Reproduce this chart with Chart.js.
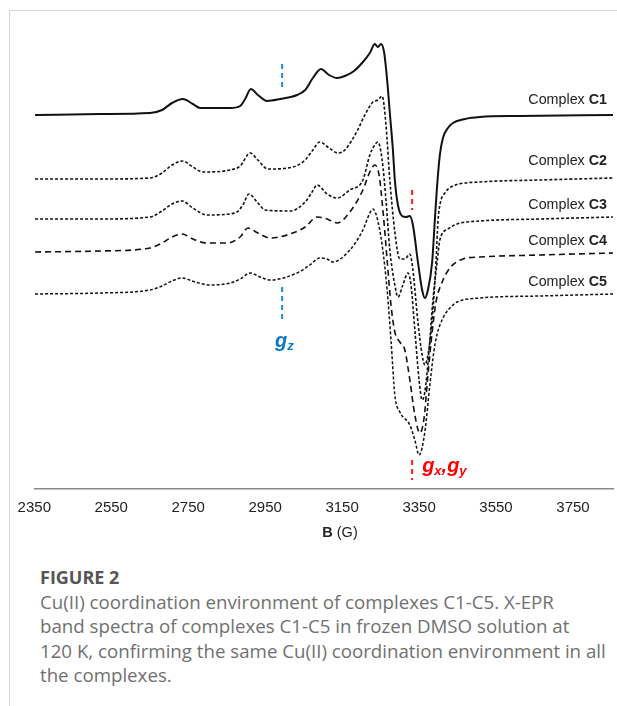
<!DOCTYPE html>
<html>
<head>
<meta charset="utf-8">
<script src="https://cdn.jsdelivr.net/npm/chart.js@4.4.1/dist/chart.umd.min.js"></script>
<style>
  html, body { margin: 0; padding: 0; background: #fff; }
  body { width: 617px; height: 706px; position: relative; overflow: hidden; }
  .frame { position: absolute; left: 9px; top: 10px; width: 608px; height: 696px;
           border-top: 1px solid #d6d6d6; border-left: 1px solid #d6d6d6; }
  #wrap { position: absolute; left: 0; top: 0; width: 617px; height: 560px; }
  .caption { position: absolute; left: 40px; top: 565px; font-family: "Open Sans", sans-serif;
             color: #707070; font-size: 18.7px; line-height: 24.5px; white-space: nowrap; }
  .caption .fig { color: #555; font-weight: bold; font-size: 18px; }
</style>
</head>
<body>
<div class="frame"></div>
<div id="wrap"><canvas id="eprChart"></canvas></div>
<div class="caption">
  <div class="fig">FIGURE 2</div>
  Cu(II) coordination environment of complexes C1-C5. X-EPR<br>
  band spectra of complexes C1-C5 in frozen DMSO solution at<br>
  120 K, confirming the same Cu(II) coordination environment in all<br>
  the complexes.
</div>
<script>
// magnetic field tick labels (G)
const tickValues = [2350, 2550, 2750, 2950, 3150, 3350, 3550, 3750];
const seriesNames = ['C1', 'C2', 'C3', 'C4', 'C5'];

// field (G) / signal (arb. units, curves stacked with offsets)
const fieldC1 = [2352, 2521, 2651, 2682, 2708, 2736, 2762, 2781, 2859, 2885, 2898, 2913, 2931, 2955, 2989, 3033, 3054, 3074, 3095, 3116, 3137, 3157, 3181, 3204, 3222, 3235, 3243, 3251, 3259, 3267, 3274, 3282, 3287, 3295, 3306, 3316, 3326, 3334, 3347, 3358, 3365, 3373, 3384, 3391, 3397, 3404, 3412, 3425, 3438, 3469, 3508, 3612, 3854];
const signalC1 = [374, 375, 376, 379, 386, 390, 385, 381, 381, 383, 390, 400, 394, 388, 390, 394, 399, 411, 420, 414, 411, 413, 418, 427, 436, 445, 442, 445, 437, 409, 376, 339, 309, 284, 273, 272, 273, 264, 227, 199, 191, 199, 227, 269, 304, 334, 351, 361, 366, 370, 372, 373, 374];

const fieldC2 = [2352, 2521, 2651, 2682, 2708, 2736, 2762, 2788, 2859, 2885, 2911, 2931, 2957, 3022, 3054, 3074, 3092, 3116, 3139, 3157, 3189, 3209, 3230, 3243, 3254, 3264, 3274, 3287, 3300, 3313, 3326, 3334, 3347, 3358, 3365, 3373, 3384, 3394, 3399, 3404, 3417, 3438, 3508, 3664, 3854];
const signalC2 = [310, 310, 311, 316, 324, 328, 322, 317, 319, 323, 336, 329, 320, 322, 329, 339, 347, 341, 336, 339, 358, 374, 387, 389, 393, 364, 309, 257, 230, 230, 235, 219, 167, 134, 124, 134, 169, 227, 267, 284, 296, 303, 307, 309, 311];

const fieldC3 = [2352, 2521, 2651, 2682, 2708, 2734, 2762, 2799, 2872, 2892, 2908, 2931, 2950, 3015, 3054, 3072, 3085, 3111, 3137, 3170, 3204, 3222, 3233, 3243, 3254, 3264, 3274, 3287, 3295, 3308, 3321, 3329, 3339, 3350, 3358, 3365, 3376, 3386, 3397, 3404, 3425, 3449, 3508, 3664, 3854];
const signalC3 = [270, 270, 272, 278, 285, 288, 281, 274, 276, 284, 295, 286, 279, 278, 287, 297, 304, 295, 291, 299, 309, 334, 343, 347, 329, 289, 239, 204, 192, 204, 216, 204, 159, 109, 89, 97, 139, 189, 227, 249, 260, 265, 268, 270, 272];

const fieldC4 = [2352, 2521, 2651, 2682, 2708, 2734, 2762, 2799, 2851, 2885, 2905, 2931, 2963, 3022, 3054, 3085, 3111, 3137, 3170, 3204, 3222, 3235, 3246, 3256, 3267, 3277, 3287, 3300, 3313, 3326, 3339, 3352, 3363, 3373, 3384, 3394, 3410, 3430, 3464, 3508, 3664, 3854];
const signalC4 = [237, 238, 241, 246, 252, 255, 250, 246, 246, 252, 261, 256, 251, 256, 262, 272, 270, 266, 277, 299, 317, 324, 314, 279, 229, 184, 157, 147, 139, 109, 74, 56, 71, 114, 157, 187, 207, 221, 230, 232, 234, 236];

const fieldC5 = [2352, 2521, 2651, 2682, 2708, 2734, 2768, 2807, 2859, 2885, 2911, 2937, 2963, 3033, 3066, 3092, 3111, 3126, 3170, 3204, 3222, 3230, 3241, 3254, 3267, 3277, 3287, 3300, 3326, 3339, 3350, 3365, 3378, 3389, 3397, 3412, 3430, 3449, 3508, 3664, 3854];
const signalC5 = [195, 196, 199, 203, 208, 211, 207, 204, 206, 210, 216, 212, 209, 216, 224, 231, 230, 227, 239, 259, 276, 280, 271, 244, 199, 149, 94, 77, 64, 49, 34, 57, 104, 139, 155, 171, 181, 187, 191, 193, 195];

// where the "Complex Cn" labels sit (signal units)
const labelLevels = [389, 328, 284, 248, 207];

// g-value markers: field and signal extents of the dashed ticks
const gzField = 2994;
const gzSegments = [[425, 400], [202, 166]];
const gxField = 3332;
const gxSegments = [[299, 279], [29, 9]];

const fields = [fieldC1, fieldC2, fieldC3, fieldC4, fieldC5];
const signals = [signalC1, signalC2, signalC3, signalC4, signalC5];
const dashes = [[], [3, 2], [3, 2], [6, 4], [3, 2]];
const widths = [2, 1.6, 1.6, 1.6, 1.5];

const FONT = '"Liberation Sans", Arial, sans-serif';

const overlay = {
    id: 'overlay',
    afterDatasetsDraw(chart) {
        const { ctx, chartArea, scales: { x, y } } = chart;
        ctx.save();

        // Complex labels
        ctx.fillStyle = '#222';
        ctx.textBaseline = 'middle';
        ctx.textAlign = 'right';
        seriesNames.forEach((name, i) => {
            const py = y.getPixelForValue(labelLevels[i]);
            const right = chartArea.right - 6;
            ctx.font = 'bold 14.3px ' + FONT;
            ctx.fillText(name, right, py);
            const w = ctx.measureText(name).width;
            ctx.font = '14.3px ' + FONT;
            ctx.fillText('Complex ', right - w, py);
        });

        // dashed g markers
        const drawMarker = (field, segs, color) => {
            const px = x.getPixelForValue(field);
            ctx.strokeStyle = color;
            ctx.lineWidth = 2;
            ctx.setLineDash([5, 4]);
            segs.forEach(([a, b]) => {
                ctx.beginPath();
                ctx.moveTo(px, y.getPixelForValue(a));
                ctx.lineTo(px, y.getPixelForValue(b));
                ctx.stroke();
            });
            ctx.setLineDash([]);
            return px;
        };
        const gzX = drawMarker(gzField, gzSegments, '#1a8ee0');
        const gxX = drawMarker(gxField, gxSegments, '#ff1a1a');

        // g labels
        ctx.textAlign = 'left';
        ctx.textBaseline = 'alphabetic';
        const gLabel = (parts, x0, base, color) => {
            ctx.fillStyle = color;
            let cx = x0;
            parts.forEach(([txt, sub]) => {
                ctx.font = 'italic bold ' + (sub ? 13 : 20) + 'px ' + FONT;
                ctx.fillText(txt, cx, base + (sub ? 3 : 0));
                cx += ctx.measureText(txt).width;
            });
        };
        gLabel([['g', false], ['z', true]], gzX - 7, 347, '#0a78c8');
        gLabel([['g', false], ['x', true], [',', false], ['g', false], ['y', true]], gxX + 10, 472, '#ff0000');

        // axis title B (G)
        ctx.fillStyle = '#222';
        ctx.textBaseline = 'middle';
        ctx.font = 'bold 14.5px ' + FONT;
        const bW = ctx.measureText('B').width;
        ctx.font = '14.5px ' + FONT;
        const gW = ctx.measureText(' (G)').width;
        const cx = 340 - (bW + gW) / 2;
        ctx.font = 'bold 14.5px ' + FONT;
        ctx.fillText('B', cx, 533);
        ctx.font = '14.5px ' + FONT;
        ctx.fillText(' (G)', cx + bW, 533);

        ctx.restore();
    }
};

new Chart(document.getElementById('eprChart'), {
    type: 'line',
    data: {
        datasets: seriesNames.map((name, i) => ({
            label: 'Complex ' + name,
            data: fields[i].map((f, k) => ({ x: f, y: signals[i][k] })),
            borderColor: '#111',
            borderWidth: widths[i],
            borderDash: dashes[i],
            pointRadius: 0,
            fill: false,
            cubicInterpolationMode: 'monotone'
        }))
    },
    options: {
        responsive: true,
        maintainAspectRatio: false,
        animation: false,
        layout: { padding: { left: 34.3, right: 4, top: 20, bottom: 33.6 } },
        plugins: { legend: { display: false }, tooltip: { enabled: false } },
        scales: {
            x: {
                type: 'linear',
                min: 2350,
                max: 3854,
                afterBuildTicks: s => { s.ticks = tickValues.map(v => ({ value: v })); },
                grid: { display: false, drawTicks: false, tickLength: 0 },
                border: { display: true, color: '#8a8a8a', width: 1.5 },
                ticks: {
                    padding: 9.7,
                    color: '#222',
                    font: { family: FONT, size: 15 },
                    maxRotation: 0,
                    autoSkip: false,
                    callback: v => String(v)
                }
            },
            y: {
                min: 0,
                max: 469,
                display: false
            }
        }
    },
    plugins: [overlay]
});
</script>
</body>
</html>
